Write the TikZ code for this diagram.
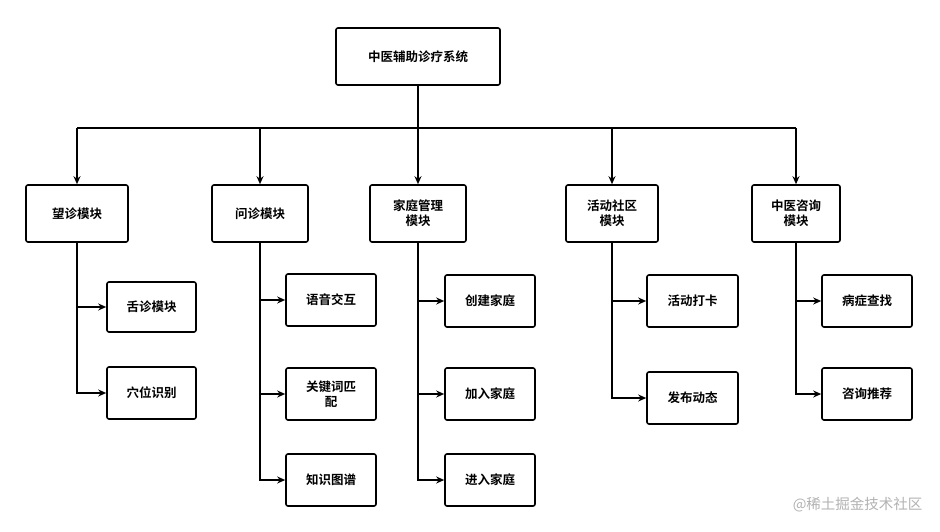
\documentclass[tikz,border=0pt]{standalone}
\usepackage{fontspec}
\setmainfont{Noto Sans CJK SC}[BoldFont={Noto Sans CJK SC Bold}]
\usetikzlibrary{arrows.meta}
\begin{document}
\begin{tikzpicture}[x=1pt,y=-1pt,
  bx/.style={draw,line width=1.6pt,rounded corners=2pt,fill=white,font=\fontsize{12.5}{15}\selectfont\bfseries,align=center,inner sep=0pt},
  ar/.style={line width=1.4pt,-{Stealth[length=8pt,width=7pt]}},
  ln/.style={line width=1.4pt}]
\useasboundingbox (0,0) rectangle (940,532);
\newcommand{\bb}[6]{\node[bx,minimum width=#4-#2,minimum height=#5-#3] (#1) at ({(#2+#4)/2},{(#3+#5)/2}) {#6};}
\bb{root}{336}{28}{500}{85}{中医辅助诊疗系统}
\bb{a}{26}{185}{128}{242}{望诊模块}
\bb{b}{212}{185}{308}{242}{问诊模块}
\bb{c}{370}{185}{466}{242}{家庭管理\\模块}
\bb{d}{566}{185}{658}{242}{活动社区\\模块}
\bb{e}{752}{185}{840}{242}{中医咨询\\模块}
\bb{a1}{107}{282}{196}{332}{舌诊模块}
\bb{a2}{107}{367}{196}{419}{穴位识别}
\bb{b1}{286}{274}{376}{326}{语音交互}
\bb{b2}{286}{368}{376}{420}{关键词匹\\配}
\bb{b3}{286}{454}{376}{506}{知识图谱}
\bb{c1}{445}{275}{535}{327}{创建家庭}
\bb{c2}{445}{368}{535}{420}{加入家庭}
\bb{c3}{445}{454}{535}{506}{进入家庭}
\bb{d1}{647}{275}{738}{327}{活动打卡}
\bb{d2}{647}{372}{738}{424}{发布动态}
\bb{e1}{822}{275}{912}{327}{病症查找}
\bb{e2}{822}{368}{912}{420}{咨询推荐}
\coordinate (bus) at (418,128);
\draw[ln] (root.south) -- (bus);
\draw[ln] (77,128) -- (796,128);
\foreach \n in {a,b,c,d,e} \draw[ar] (\n.north |- bus) -- (\n.north);
\foreach \p/\cs in {a/{a1,a2},b/{b1,b2,b3},c/{c1,c2,c3},d/{d1,d2},e/{e1,e2}}{
  \foreach \ch in \cs { \draw[ar] (\p.south) |- (\ch.west); }
}
\node[text=gray!60,font=\fontsize{14.5}{16}\selectfont,anchor=east] (wm) at (926,505) {@稀土掘金技术社区};
\end{tikzpicture}
\end{document}
